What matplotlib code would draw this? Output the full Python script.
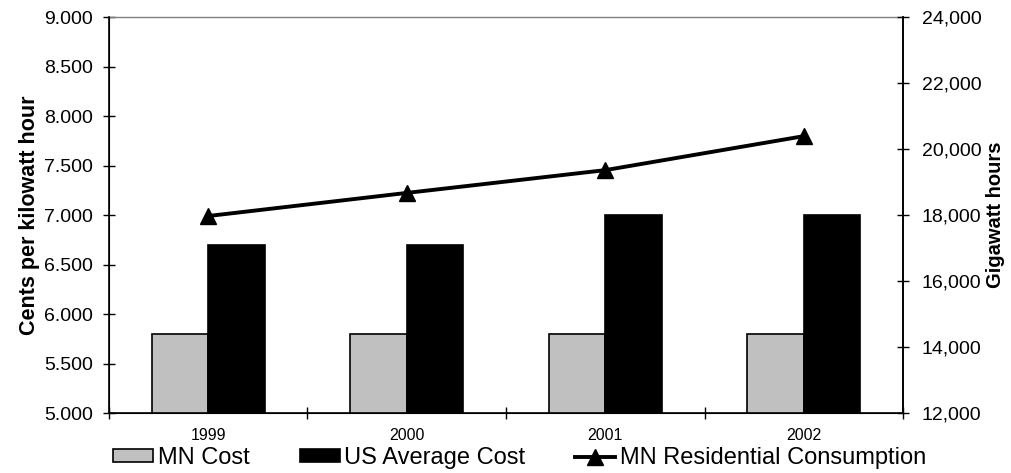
import matplotlib
matplotlib.use('Agg')
import matplotlib.pyplot as plt
import numpy as np
from matplotlib.ticker import FuncFormatter, FixedLocator

plt.rcParams['font.family'] = ['Liberation Sans', 'DejaVu Sans']

years = ['1999', '2000', '2001', '2002']
mn_cost = [5.8, 5.8, 5.8, 5.8]
us_cost = [6.7, 6.7, 7.0, 7.0]
mn_consumption = [17970, 18670, 19360, 20390]

fig = plt.figure(figsize=(10.12, 4.73), dpi=100)
ax = fig.add_axes([0.1077, 0.1268, 0.7846, 0.8372])

x = np.arange(len(years))
w = 0.285
ax.bar(x - w / 2, mn_cost, w, color='#c0c0c0', edgecolor='black', linewidth=1.2, label='MN Cost', zorder=2)
ax.bar(x + w / 2, us_cost, w, color='black', edgecolor='black', linewidth=1.2, label='US Average Cost', zorder=2)

ax.set_xlim(-0.5, 3.5)
ax.set_ylim(5, 9)
ax.set_yticks(np.arange(5, 9.01, 0.5))
ax.yaxis.set_major_formatter(FuncFormatter(lambda v, p: f'{v:.3f}'))
ax.set_xticks(x)
ax.set_xticklabels(years, fontsize=11.5)
ax.xaxis.set_minor_locator(FixedLocator(np.arange(-0.5, 3.6, 1)))
ax.tick_params(axis='x', which='major', length=0, pad=11)
ax.tick_params(axis='x', which='minor', direction='inout', length=9, width=1)
ax.tick_params(axis='y', direction='inout', length=9, width=1, labelsize=14, pad=7)
ax.set_ylabel('Cents per kilowatt hour', fontsize=15.5, fontweight='bold', labelpad=3)

ax.spines['top'].set_color('#808080')
ax.spines['top'].set_linewidth(1)
for s in ['left', 'bottom', 'right']:
    ax.spines[s].set_linewidth(1.2)

ax2 = ax.twinx()
ax2.plot(x, mn_consumption, color='black', linewidth=2.8, marker='^', markersize=11,
         label='MN Residential Consumption', zorder=3)
ax2.set_ylim(12000, 24000)
ax2.set_yticks(np.arange(12000, 24001, 2000))
ax2.yaxis.set_major_formatter(FuncFormatter(lambda v, p: f'{int(v):,}'))
ax2.tick_params(axis='y', direction='inout', length=9, width=1, labelsize=14, pad=9)
ax2.set_ylabel('Gigawatt hours', fontsize=14.5, fontweight='bold', labelpad=3)
ax2.spines['top'].set_visible(False)
ax2.spines['right'].set_linewidth(1.2)

h1, l1 = ax.get_legend_handles_labels()
h2, l2 = ax2.get_legend_handles_labels()
fig.legend(h1 + h2, l1 + l2, loc='lower left', bbox_to_anchor=(0.098, -0.022), ncol=3,
           frameon=False, fontsize=17, handlelength=1.7, handleheight=0.48,
           handletextpad=0.2, columnspacing=2.1, borderaxespad=0.2)

fig.savefig('out.png', dpi=100)
